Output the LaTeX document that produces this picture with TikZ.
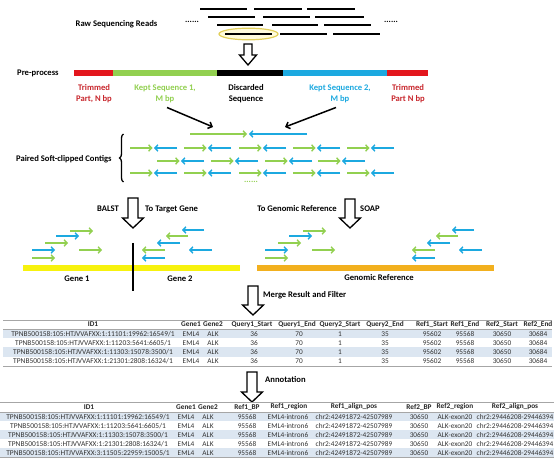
\documentclass[tikz,border=0pt]{standalone}
\usepackage{fontspec}
\setmainfont{Carlito}
\usetikzlibrary{arrows.meta,decorations.pathreplacing}
\definecolor{grn}{HTML}{92D050}
\definecolor{blu}{HTML}{1CA9E0}
\definecolor{redbar}{HTML}{E3161D}
\definecolor{redtxt}{HTML}{C8262C}
\definecolor{yel}{HTML}{F7F20E}
\definecolor{org}{HTML}{F2B01E}
\definecolor{rowshade}{HTML}{DCE6F1}
\definecolor{rulec}{HTML}{A6A6A6}
\definecolor{ellfill}{HTML}{FFFBDC}
\definecolor{elldraw}{HTML}{E2CF5A}
\tikzset{
 lbl/.style={font=\bfseries\fontsize{8.6}{11}\selectfont, inner sep=0, align=center},
 readln/.style={line width=2pt},
 fwd/.style={grn, line width=1.4pt, -{Straight Barb[length=3pt,width=6.5pt]}},
 rev/.style={blu, line width=1.4pt, -{Straight Barb[length=3pt,width=6.5pt]}},
 hollow/.style={draw=black, line width=1.3pt, fill=white, line join=miter},
 tcell/.style={font=\fontsize{7.3}{8}\selectfont, inner sep=0, text=black!80},
 tid/.style={font=\fontsize{7.45}{8}\selectfont, inner sep=0, text=black!80},
 thead/.style={font=\bfseries\fontsize{7.3}{8}\selectfont, inner sep=0, text=black!85},
 trule/.style={draw=rulec, line width=0.5pt},
 pointer/.style={black, line width=1.5pt, -{Straight Barb[length=3.5pt,width=7pt]}},
}
\newcommand\hollowdown[6]{%
 \draw[hollow] (#1-#4,#2) -- (#1+#4,#2) -- (#1+#4,#3-#6) -- (#1+#5,#3-#6) -- (#1,#3)
   -- (#1-#5,#3-#6) -- (#1-#4,#3-#6) -- cycle;}
\newcommand\pairat[2]{%
 \draw[fwd] (#1,#2) -- (#1+22.5,#2);
 \draw[rev] (#1+47,#2) -- (#1+24,#2);}
\begin{document}
\begin{tikzpicture}[x=1pt,y=-1pt]
\useasboundingbox (0,0) rectangle (554,462);
\fill[white] (0,0) rectangle (554,462);

% ---------- raw reads ----------
\node[lbl] (raw) at (116.5,24) {Raw Sequencing Reads};
\node[lbl] (dotsL) at (192,22) {......};
\node[lbl] (dotsR) at (391,22) {......};
\draw[elldraw, fill=ellfill, line width=1.2pt] (248.5,34) ellipse [x radius=29.5, y radius=5.8];
\foreach \a/\b/\y in {200/247/9,254/302/9,307/355/9,
                      208/255/17,263/310/17,315/364/17,
                      217/263/25,272/318/25,324/371/25,
                      225/272/34,280/327/34,333/380/34}
  \draw[readln] (\a,\y) -- (\b,\y);
\hollowdown{248}{44}{65}{4}{8.5}{10}

% ---------- pre-process ----------
\node[lbl, anchor=west] (pre) at (17,73) {Pre-process};
\draw[redbar, line width=6.5pt] (74,73) -- (113,73);
\draw[grn, line width=6.5pt] (113,73) -- (217,73);
\draw[black, line width=6.5pt] (217,73) -- (283,73);
\draw[blu, line width=6.5pt] (283,73) -- (387,73);
\draw[redbar, line width=6.5pt] (387,73) -- (428,73);
\node[lbl, text=redtxt] (trim1) at (94,93.5) {Trimmed\\Part, N bp};
\node[lbl, text=grn] (kept1) at (165,93.5) {Kept Sequence 1,\\M bp};
\node[lbl] (disc) at (246,93.5) {Discarded\\Sequence};
\node[lbl, text=blu] (kept2) at (340,93.5) {Kept Sequence 2,\\M bp};
\node[lbl, text=redtxt] (trim2) at (408,93.5) {Trimmed\\Part N bp};

% ---------- paired contigs ----------
\coordinate (k1s) at (167,107.5);
\coordinate (k1e) at (213,127);
\coordinate (k2s) at (336,107.5);
\coordinate (k2e) at (285,127);
\draw[pointer] (k1s) -- (k1e);
\draw[pointer] (k2s) -- (k2e);
\draw[fwd] (190,134) -- (247,134);
\draw[rev] (307,134) -- (249,134);
\foreach \x in {130,184,239,293,347} {\pairat{\x}{148}}
\foreach \x in {157,211,265,318} {\pairat{\x}{161}}
\foreach \x in {130,184,239,293,347} {\pairat{\x}{173}}
\node[lbl, text=grn] (dotsG) at (251,182) {......};
\draw[line width=1.3pt, decorate, decoration={brace, amplitude=4pt}] (123.5,182) -- (123.5,134);
\node[lbl, anchor=west] (paired) at (16,159) {Paired Soft-clipped Contigs};

% ---------- alignment ----------
\hollowdown{133}{198}{228}{5}{10.5}{10}
\hollowdown{350}{199}{228}{5}{10.5}{10}
\node[lbl] (balst) at (108,209) {BALST};
\node[lbl, anchor=west] (tgt) at (145,209) {To Target Gene};
\node[lbl, anchor=east] (tgr) at (337,209) {To Genomic Reference};
\node[lbl, anchor=west] (soap) at (360,209) {SOAP};

\draw[yel, line width=6pt] (23,268) -- (240,268);
\draw[org, line width=6pt] (257,268) -- (494,268);
\draw[black, line width=1.3pt] (133,243) -- (133,291);
\node[lbl] (g1) at (77,279) {Gene 1};
\node[lbl] (g2) at (180,279) {Gene 2};
\node[lbl] (gref) at (379,278) {Genomic Reference};

% left clusters, shift 0 and 233
\foreach \s in {0,233} {
  \draw[fwd] (70+\s,231) -- (93+\s,231);
  \draw[rev] (56+\s,236) -- (79+\s,236);
  \draw[fwd] (45+\s,243) -- (68+\s,243);
  \draw[rev] (32+\s,250) -- (55+\s,250);
  \draw[fwd] (32+\s,258) -- (55+\s,258);
  \draw[fwd] (79+\s,250) -- (102+\s,250);
}
% right clusters, shift 0 and 270
\foreach \s in {0,270} {
  \draw[rev] (204+\s,230) -- (182+\s,230);
  \draw[fwd] (188+\s,236) -- (166+\s,236);
  \draw[rev] (180+\s,243) -- (157+\s,243);
  \draw[fwd] (165+\s,250) -- (142+\s,250);
  \draw[rev] (212+\s,250) -- (189+\s,250);
  \draw[rev] (165+\s,258) -- (142+\s,258);
}

% ---------- merge ----------
\hollowdown{253}{286}{315}{5}{10.5}{10}
\node[lbl, anchor=west] (merge) at (263,295) {Merge Result and Filter};

% table 1
\fill[rowshade] (3,329) rectangle (552,338.2);
\fill[rowshade] (3,347.4) rectangle (552,356.6);
\draw[trule] (3,320) -- (552,320);
\draw[trule] (3,329) -- (552,329);
\draw[trule] (3,366) -- (552,366);
\foreach \x/\t [count=\c] in {93/ID1,191/Gene1,213/Gene2,252/Query1\_Start,297/Query1\_End,
   340/Query2\_Start,385/Query2\_End,432/Ref1\_Start,465/Ref1\_End,502/Ref2\_Start,538/Ref2\_End}
  \node[thead] (ha\c) at (\x,324.5) {\t};
\foreach \id [count=\r] in {TPNB500158:105:HTJVVAFXX:1:11101:19962:16549/1,
   TPNB500158:105:HTJVVAFXX:1:11203:5641:6605/1,
   TPNB500158:105:HTJVVAFXX:1:11303:15078:3500/1,
   TPNB500158:105:HTJVVAFXX:1:21301:2808:16324/1} {
  \pgfmathsetmacro\yy{324.5+9.2*\r}
  \node[tid] (ta\r-1) at (93,\yy) {\id};
  \foreach \x/\v [count=\c from 2] in {191/EML4,213/ALK,254/36,299/70,340/1,385/35,
     432/95602,465/95568,502/30650,538/30684}
    \node[tcell] (ta\r-\c) at (\x,\yy) {\v};
}

% ---------- annotation ----------
\hollowdown{252}{372}{402}{5}{10.5}{10}
\node[lbl, anchor=west] (annot) at (265,380) {Annotation};

% table 2
\fill[rowshade] (0,412.3) rectangle (554,421.3);
\fill[rowshade] (0,430.3) rectangle (554,439.3);
\fill[rowshade] (0,448.3) rectangle (554,457.3);
\draw[trule] (0,402.5) -- (554,402.5);
\draw[trule] (0,412.3) -- (554,412.3);
\draw[trule] (0,457.5) -- (554,457.5);
\foreach \x/\t [count=\c] in {89/ID1,186/Gene1,208/Gene2,247/Ref1\_BP,289/Ref1\_region,
   354/Ref1\_align\_pos,419/Ref2\_BP,455/Ref2\_region,515/Ref2\_align\_pos}
  \node[thead] (hb\c) at (\x,407) {\t};
\foreach \id [count=\r] in {TPNB500158:105:HTJVVAFXX:1:11101:19962:16549/1,
   TPNB500158:105:HTJVVAFXX:1:11203:5641:6605/1,
   TPNB500158:105:HTJVVAFXX:1:11303:15078:3500/1,
   TPNB500158:105:HTJVVAFXX:1:21301:2808:16324/1,
   TPNB500158:105:HTJVVAFXX:3:11505:22959:15005/1} {
  \pgfmathsetmacro\yy{407.8+9*\r}
  \node[tid] (tb\r-1) at (88,\yy) {\id};
  \foreach \x/\v [count=\c from 2] in {186/EML4,208/ALK,247/95568,288/EML4-intron6,
     354/chr2:42491872-42507989,419/30650,455/ALK-exon20,515/chr2:29446208-29446394}
    \node[tcell] (tb\r-\c) at (\x,\yy) {\v};
}
\end{tikzpicture}
\end{document}
